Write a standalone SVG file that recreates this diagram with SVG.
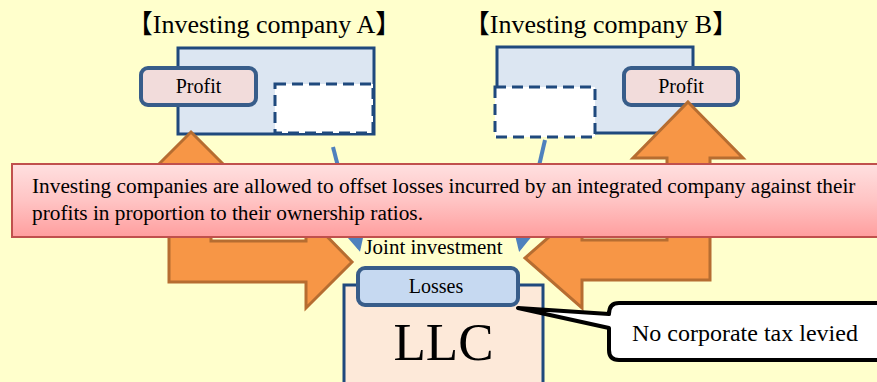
<svg xmlns="http://www.w3.org/2000/svg" width="877" height="382" viewBox="0 0 877 382">
  <style>
    .serif { font-family: "Liberation Serif", "Times New Roman", "Noto Sans CJK JP", serif; fill: #000; }
    .title { font-size: 26px; text-anchor: middle; }
    .tag { font-size: 20px; text-anchor: middle; }
    .company { fill: #DCE6F2; stroke: #1F497D; stroke-width: 3; }
    .profit { fill: #F2DCDB; stroke: #385D8A; stroke-width: 4; }
    .share { fill: #FFFFFF; stroke: #1F497D; stroke-width: 3; stroke-dasharray: 11 6; }
    .flow { fill: none; stroke: #4F81BD; stroke-width: 4; }
    .bent { fill: #F79646; stroke: #B66D31; stroke-width: 3; stroke-linejoin: miter; }
  </style>
  <defs>
    <marker id="head" viewBox="0 0 10 10" refX="8" refY="5" markerWidth="20" markerHeight="20" markerUnits="userSpaceOnUse" orient="auto">
      <path d="M0,0 L10,5 L0,10 Z" fill="#4F81BD"/>
    </marker>
    <linearGradient id="bannerFill" x1="0" y1="0" x2="0" y2="1">
      <stop offset="0" stop-color="#FFE0E0"/>
      <stop offset="0.5" stop-color="#FFC4C4"/>
      <stop offset="1" stop-color="#FF9E9E"/>
    </linearGradient>
  </defs>

  <!-- backdrop -->
  <rect x="0" y="0" width="877" height="382" fill="#FFFFCC"/>

  <!-- investing company A -->
  <g id="company-a">
    <text class="serif title" x="264" y="33">【Investing company A】</text>
    <rect class="company" x="178" y="48" width="196" height="86"/>
    <rect class="share" x="275" y="84" width="98" height="49"/>
    <rect class="profit" x="141" y="68" width="115" height="37" rx="7"/>
    <text class="serif tag" x="198.5" y="93">Profit</text>
  </g>

  <!-- investing company B -->
  <g id="company-b">
    <text class="serif title" x="601" y="33">【Investing company B】</text>
    <rect class="company" x="497" y="47" width="196" height="86"/>
    <rect class="share" x="495" y="87" width="100" height="50"/>
    <rect class="profit" x="624" y="68" width="114" height="37" rx="7"/>
    <text class="serif tag" x="681" y="93">Profit</text>
  </g>

  <!-- connectors: investment flows and loss transfer arrows -->
  <g id="connectors">
    <line class="flow" x1="333" y1="147" x2="359" y2="248" marker-end="url(#head)"/>
    <line class="flow" x1="545" y1="140" x2="520" y2="248" marker-end="url(#head)"/>
    <path class="bent" d="M191,132 L237,178 L211,178 L211,241 L306,241 L306,215 L352,262 L306,308 L306,282 L169,282 L169,178 L145,178 Z"/>
    <path class="bent" d="M688,102 L743,158 L710,158 L710,280 L582,280 L582,308 L525,258 L582,208 L582,240 L667,240 L667,158 L633,158 Z"/>
  </g>

  <!-- explanatory banner -->
  <g id="banner">
    <rect x="12" y="164" width="880" height="73" fill="url(#bannerFill)" stroke="#C0504D" stroke-width="2"/>
    <text class="serif" font-size="21.3" x="32" y="193">Investing companies are allowed to offset losses incurred by an integrated company against their</text>
    <text class="serif" font-size="21.3" x="32" y="220">profits in proportion to their ownership ratios.</text>
  </g>

  <g id="joint-investment">
    <text class="serif" font-size="21" x="433.5" y="254" text-anchor="middle">Joint investment</text>
  </g>

  <!-- integrated company -->
  <g id="llc">
    <rect x="344" y="285" width="199" height="110" fill="#FDE9D9" stroke="#1F497D" stroke-width="3"/>
    <text class="serif" font-size="53" x="443.5" y="360" text-anchor="middle">LLC</text>
    <rect x="358" y="268" width="160" height="37" rx="7" fill="#C6D9F1" stroke="#385D8A" stroke-width="4"/>
    <text class="serif tag" x="436" y="293">Losses</text>
  </g>

  <!-- tax note callout -->
  <g id="tax-note">
    <path d="M619,303 H890 V360 H619 Q609,360 609,350 V328 L518,308 L609,314 Q609,303 619,303 Z" fill="#FFFFFF" stroke="#000000" stroke-width="4" stroke-linejoin="round"/>
    <text class="serif" font-size="24" x="632" y="341">No corporate tax levied</text>
  </g>
</svg>
